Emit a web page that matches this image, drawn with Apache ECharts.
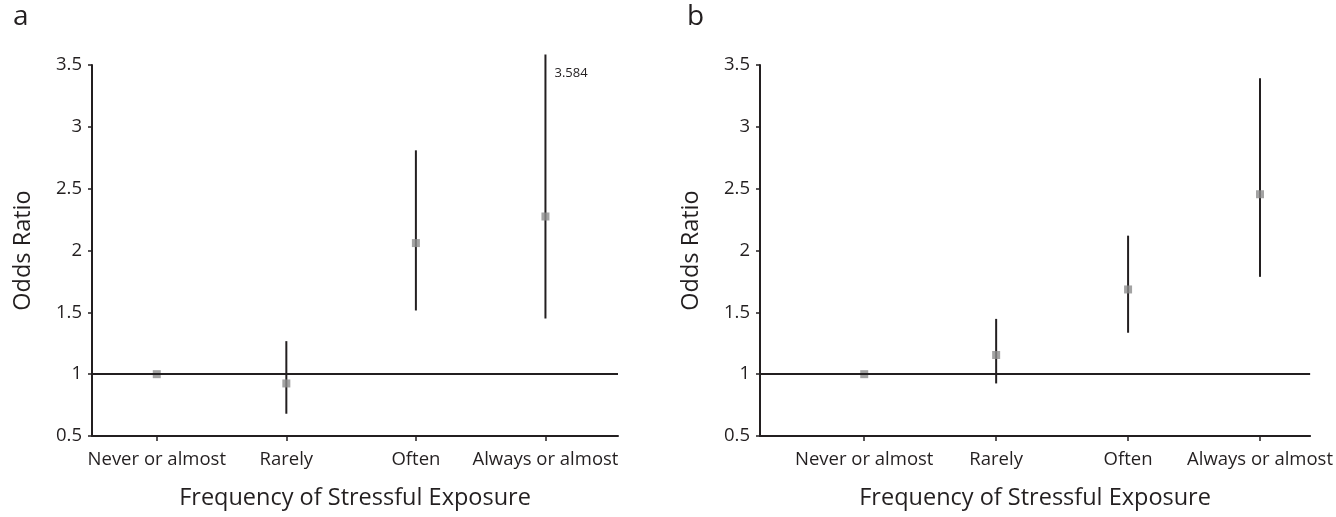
<!DOCTYPE html>
<html>
<head>
<meta charset="utf-8">
<script src="https://cdn.jsdelivr.net/npm/echarts@6/dist/echarts.min.js"></script>
<style>
  html, body { margin: 0; padding: 0; background: #fff; }
  #chart { width: 1336px; height: 517px; }
</style>
</head>
<body>
<div id="chart"></div>
<script>
// categories on the x axis (same for both panels)
const categories = ['Never or almost', 'Rarely', 'Often', 'Always or almost'];

// panel a: odds ratio and 95% CI
const oddsA = [1.0, 0.925, 2.06, 2.275];
const lowA = [1.0, 0.68, 1.515, 1.45];
const highA = [1.0, 1.267, 2.81, 3.584];

// panel b
const oddsB = [1.0, 1.155, 1.685, 2.455];
const lowB = [1.0, 0.925, 1.335, 1.787];
const highB = [1.0, 1.447, 2.12, 3.393];

const panelLabels = ['a', 'b'];
const yTitle = 'Odds Ratio';
const xTitle = 'Frequency of Stressful Exposure';
const yMin = 0.5, yMax = 3.5, yStep = 0.5;

const ink = '#231f20';
const font = '"Open Sans", sans-serif';

const chart = echarts.init(document.getElementById('chart'));

// index list used to place ticks/labels at the categories
const catIdx = categories.map((c, i) => i);

function makeXAxis(gridIndex, min, max) {
  return {
    type: 'value',
    gridIndex: gridIndex,
    min: min,
    max: max,
    name: xTitle,
    nameLocation: 'middle',
    nameGap: 50,
    nameTextStyle: { color: ink, fontSize: 23.5, fontFamily: font },
    axisLine: { show: true, onZero: false, lineStyle: { color: ink, width: 2 } },
    axisTick: { show: true, customValues: catIdx, length: 5, lineStyle: { color: ink, width: 1.5 } },
    axisLabel: {
      customValues: catIdx,
      color: ink, fontSize: 18.5, fontFamily: font, margin: 14,
      formatter: v => categories[Math.round(v)]
    },
    splitLine: { show: false }
  };
}

function makeYAxis(gridIndex) {
  return {
    type: 'value',
    gridIndex: gridIndex,
    min: yMin,
    max: yMax,
    interval: yStep,
    name: yTitle,
    nameLocation: 'middle',
    nameGap: 57,
    nameTextStyle: { color: ink, fontSize: 23.5, fontFamily: font },
    axisLine: { show: true, onZero: false, lineStyle: { color: ink, width: 2 } },
    axisTick: { show: true, length: 4, lineStyle: { color: ink, width: 1.5 } },
    axisLabel: { color: ink, fontSize: 18.5, fontFamily: font, margin: 10 },
    splitLine: { show: false }
  };
}

function errorBars(idx, lows, highs) {
  return {
    type: 'custom',
    xAxisIndex: idx,
    yAxisIndex: idx,
    clip: false,
    z: 2,
    data: categories.map((c, i) => [i, lows[i], highs[i]]),
    renderItem: function (params, api) {
      const x = api.value(0);
      const lo = api.coord([x, api.value(1)]);
      const hiVal = api.value(2);
      const hi = api.coord([x, hiVal]);
      const children = [{
        type: 'line',
        shape: { x1: lo[0], y1: lo[1], x2: hi[0], y2: hi[1] },
        style: { stroke: ink, lineWidth: 2 }
      }];
      // value running off the top of the axis gets written next to the bar
      if (hiVal > yMax) {
        const top = api.coord([x, yMax]);
        children.push({
          type: 'text',
          style: {
            text: String(hiVal), x: hi[0] + 9, y: top[1] + 8,
            fill: ink, fontSize: 13, fontFamily: font,
            verticalAlign: 'middle'
          }
        });
      }
      return { type: 'group', children: children };
    }
  };
}

function points(idx, odds) {
  return {
    type: 'scatter',
    xAxisIndex: idx,
    yAxisIndex: idx,
    symbol: 'rect',
    symbolSize: 8,
    z: 3,
    itemStyle: { color: '#8c8c8c' },
    data: categories.map((c, i) => [i, odds[i]]),
    markLine: {
      silent: true,
      symbol: ['none', 'none'],
      label: { show: false },
      lineStyle: { color: ink, width: 2, type: 'solid' },
      data: [{ yAxis: 1 }]
    }
  };
}

const option = {
  backgroundColor: '#fff',
  animation: false,
  title: [
    { text: panelLabels[0], left: 8, top: -2, textStyle: { color: ink, fontSize: 28, fontWeight: 'normal', fontFamily: font } },
    { text: panelLabels[1], left: 682, top: -2, textStyle: { color: ink, fontSize: 28, fontWeight: 'normal', fontFamily: font } }
  ],
  grid: [
    { left: 92, top: 65, width: 526, height: 371 },
    { left: 760, top: 65, width: 555, height: 371 }
  ],
  xAxis: [makeXAxis(0, -0.5, 3.56), makeXAxis(1, -0.79, 3.38)],
  yAxis: [makeYAxis(0), makeYAxis(1)],
  series: [
    errorBars(0, lowA, highA),
    points(0, oddsA),
    errorBars(1, lowB, highB),
    points(1, oddsB)
  ]
};

chart.setOption(option);
</script>
</body>
</html>
